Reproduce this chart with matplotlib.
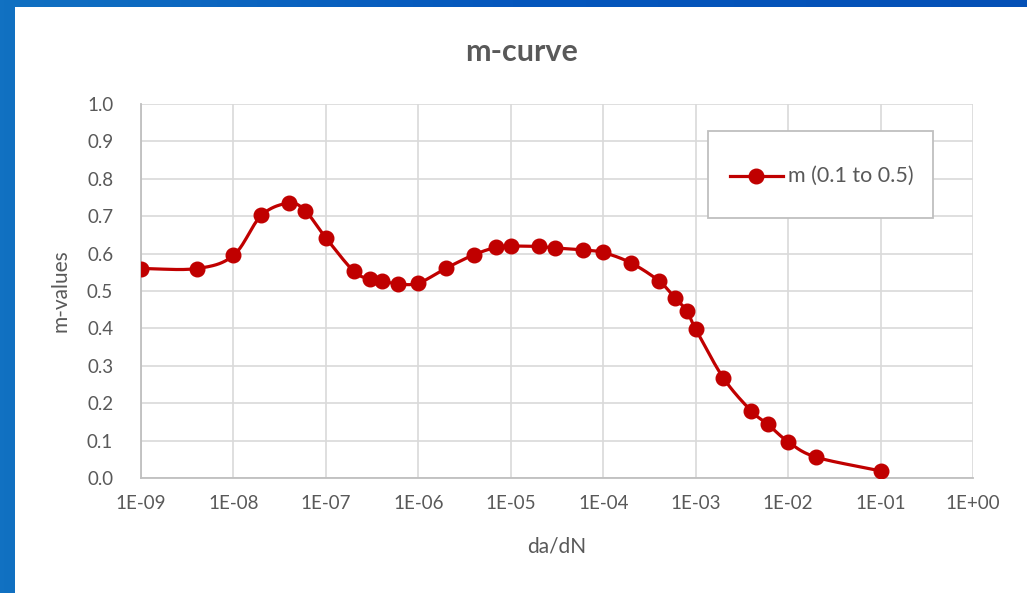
import numpy as np
import matplotlib
matplotlib.use("Agg")
from matplotlib import pyplot as plt
from matplotlib.patches import Rectangle

plt.rcParams["font.family"] = ["Lato", "DejaVu Sans"]

# m-values measured along the crack growth rate range
da_dn = [1e-9, 4e-9, 1e-8, 2e-8, 4e-8, 6e-8, 1e-7, 2e-7, 3e-7, 4e-7, 6e-7,
         1e-6, 2e-6, 4e-6, 7e-6, 1e-5, 2e-5, 3e-5, 6e-5, 1e-4, 2e-4, 4e-4,
         6e-4, 8e-4, 1e-3, 2e-3, 4e-3, 6e-3, 1e-2, 2e-2, 1e-1]
m_values = [0.560, 0.560, 0.595, 0.702, 0.735, 0.714, 0.642, 0.553, 0.532,
            0.527, 0.519, 0.521, 0.561, 0.597, 0.617, 0.620, 0.619, 0.615,
            0.610, 0.603, 0.575, 0.527, 0.481, 0.447, 0.398, 0.267, 0.179,
            0.144, 0.097, 0.056, 0.019]
series_label = "m (0.1 to 0.5)"
x_ticks = [10.0 ** k for k in range(-9, 1)]
x_tick_labels = ["1E-09", "1E-08", "1E-07", "1E-06", "1E-05", "1E-04",
                 "1E-03", "1E-02", "1E-01", "1E+00"]
y_ticks = np.round(np.arange(0, 1.01, 0.1), 1)

TEXT = "#595959"
RED = "#C00000"


def smooth(xs, ys, steps=24):
    """Catmull-Rom pass through the points, done in log-x space."""
    u = np.log10(xs)
    v = np.asarray(ys, dtype=float)
    pu = np.concatenate([[2 * u[0] - u[1]], u, [2 * u[-1] - u[-2]]])
    pv = np.concatenate([[2 * v[0] - v[1]], v, [2 * v[-1] - v[-2]]])
    t = np.linspace(0, 1, steps)[:, None]
    out_u, out_v = [], []
    for i in range(1, len(pu) - 2):
        for p, out in ((pu, out_u), (pv, out_v)):
            p0, p1, p2, p3 = p[i - 1], p[i], p[i + 1], p[i + 2]
            c1 = p1 + (p2 - p0) / 6
            c2 = p2 - (p3 - p1) / 6
            seg = ((1 - t) ** 3 * p1 + 3 * (1 - t) ** 2 * t * c1
                   + 3 * (1 - t) * t ** 2 * c2 + t ** 3 * p2)
            out.extend(seg.ravel())
    return 10.0 ** np.array(out_u), np.array(out_v)


fig = plt.figure(figsize=(10.27, 5.93), dpi=100)

# Blue slide background with the white chart area on top
bg = fig.add_axes([0, 0, 1, 1])
grad = np.linspace(0, 1, 256)[None, :]
bg.imshow(grad, aspect="auto", extent=[0, 1, 0, 1],
          cmap=matplotlib.colors.LinearSegmentedColormap.from_list(
              "slide", ["#1171C2", "#0557BD", "#0450B6"]))
bg.add_patch(Rectangle((15 / 1027, 0), 1, (593 - 7) / 593,
                       facecolor="white", edgecolor="none"))
bg.set_xlim(0, 1)
bg.set_ylim(0, 1)
bg.set_axis_off()

ax = fig.add_axes([141 / 1027, (593 - 478) / 593, 832 / 1027, 374 / 593])
ax.set_xscale("log")
ax.set_xlim(1e-9, 1e0)
ax.set_ylim(0, 1.0)

sx, sy = smooth(da_dn, m_values)
ax.plot(sx, sy, color=RED, lw=2.3, solid_capstyle="round", zorder=3)
ax.plot(da_dn, m_values, ls="none", marker="o", ms=10.5, color=RED, zorder=4)

ax.set_xticks(x_ticks)
ax.set_xticklabels(x_tick_labels)
ax.xaxis.set_minor_locator(matplotlib.ticker.NullLocator())
ax.set_yticks(y_ticks)
ax.set_yticklabels([f"{v:.1f}" for v in y_ticks])
ax.tick_params(axis="both", length=0, labelsize=13.5, labelcolor=TEXT)
ax.tick_params(axis="x", pad=12)
ax.tick_params(axis="y", pad=20)

ax.grid(True, color="#D9D9D9", lw=1.2)
ax.set_axisbelow(True)
for side in ("top", "right"):
    ax.spines[side].set_visible(False)
ax.spines["left"].set_color("#BFBFBF")
ax.spines["bottom"].set_color("#BFBFBF")
ax.spines["left"].set_linewidth(1.3)
ax.spines["bottom"].set_linewidth(1.3)

ax.set_xlabel("da/dN", fontsize=15, color=TEXT, labelpad=18)
ax.set_ylabel("m-values", fontsize=15, color=TEXT, labelpad=12)
fig.text(522 / 1027, 1 - 52 / 593, "m-curve", ha="center", va="center",
         fontsize=22, fontweight="bold", color=TEXT)

# Legend box
fig.patches.append(Rectangle((708 / 1027, 1 - 218 / 593), 225 / 1027,
                             87 / 593, transform=fig.transFigure,
                             facecolor="white", edgecolor="#BFBFBF", lw=1.3,
                             zorder=5))
fig.lines.append(matplotlib.lines.Line2D(
    [730 / 1027, 783 / 1027], [1 - 176 / 593] * 2, transform=fig.transFigure,
    color=RED, lw=2.3, zorder=6))
fig.lines.append(matplotlib.lines.Line2D(
    [756 / 1027], [1 - 176 / 593], transform=fig.transFigure, marker="o",
    ms=10.5, color=RED, zorder=6))
fig.text(788 / 1027, 1 - 176 / 593, series_label, ha="left", va="center",
         fontsize=15.5, color=TEXT, zorder=7)

fig.savefig("out.png", dpi=100)
